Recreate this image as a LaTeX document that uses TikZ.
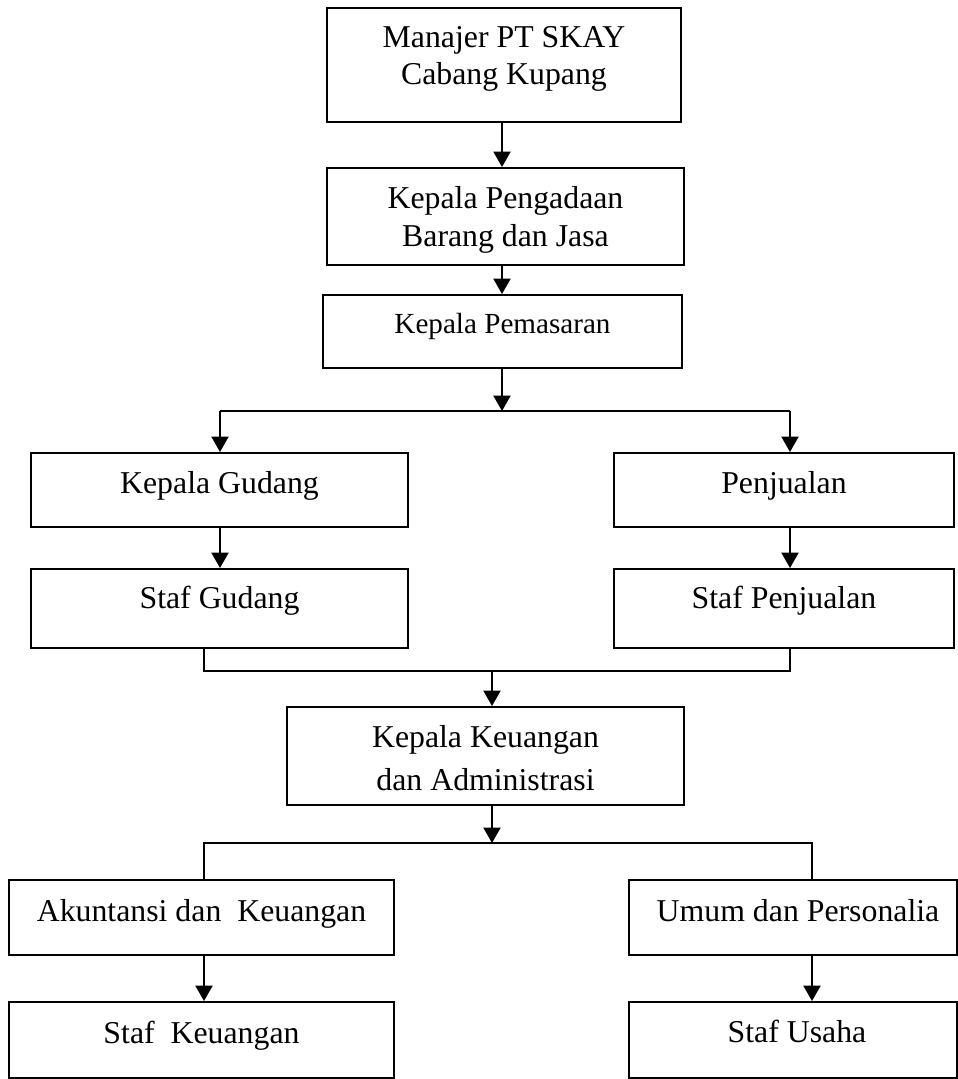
\documentclass[tikz,border=0pt]{standalone}
\usepackage{fontspec}
\setmainfont{Liberation Serif}
\usetikzlibrary{arrows.meta,fit}
\begin{document}
\begin{tikzpicture}[x=0.3774pt,y=-0.3774pt,
  box/.style={draw=black,line width=0.75pt,inner sep=0pt,fill=white},
  txt/.style={inner sep=0pt,anchor=base,font=\fontsize{12}{14}\selectfont},
  txts/.style={inner sep=0pt,anchor=base,font=\fontsize{11}{13}\selectfont},
  link/.style={draw=black,line width=0.8pt},
  arr/.style={link,-{Triangle[length=5.8pt,width=6.4pt]}}]
\useasboundingbox (0,0) rectangle (958,1079);
% boxes
\node[box,fit={(327,8) (681,122)}] (b1) {};
\node[box,fit={(327,168) (684,265)}] (b2) {};
\node[box,fit={(323,295) (682,368)}] (b3) {};
\node[box,fit={(31,453) (408,527)}] (kg) {};
\node[box,fit={(614,453) (954,527)}] (pj) {};
\node[box,fit={(31,569) (408,648)}] (sg) {};
\node[box,fit={(614,569) (954,648)}] (sp) {};
\node[box,fit={(287,707) (684,805)}] (kk) {};
\node[box,fit={(9,880) (394,955)}] (ak) {};
\node[box,fit={(629,880) (957,955)}] (um) {};
\node[box,fit={(9,1002) (394,1078)}] (sk) {};
\node[box,fit={(629,1002) (957,1078)}] (su) {};
% texts
\node[txt] (t1a) at (504,47) {Manajer PT SKAY};
\node[txt] (t1b) at (504,84) {Cabang Kupang};
\node[txt] (t2a) at (505.5,208) {Kepala Pengadaan};
\node[txt] (t2b) at (505.5,246) {Barang dan Jasa};
\node[txts] (t3) at (502.5,333) {Kepala Pemasaran};
\node[txt] (tkg) at (219.5,493) {Kepala Gudang};
\node[txt] (tpj) at (784,493) {Penjualan};
\node[txt] (tsg) at (219.5,608) {Staf Gudang};
\node[txt] (tsp) at (784,608) {Staf Penjualan};
\node[txt] (tkka) at (485.5,747) {Kepala Keuangan};
\node[txt] (tkkb) at (485.5,790) {dan Administrasi};
\node[txt] (tak) at (201.5,921) {Akuntansi dan\ \ Keuangan};
\node[txt] (tum) at (798,921) {Umum dan Personalia};
\node[txt] (tsk) at (201.5,1043) {Staf\ \ Keuangan};
\node[txt] (tsu) at (797,1042) {Staf Usaha};
% junction coordinates
\coordinate (j1) at (502,411);
\coordinate (j1l) at (220,411);
\coordinate (j1r) at (790,411);
\coordinate (j2l) at (204,671);
\coordinate (j2m) at (492,671);
\coordinate (j2r) at (790,671);
\coordinate (j3) at (492,843);
\coordinate (j3l) at (204,843);
\coordinate (j3r) at (812,843);
% connectors
\draw[arr] (b1.south -| j1) -- (b2.north -| j1);
\draw[arr] (b2.south -| j1) -- (b3.north -| j1);
\draw[arr] (b3.south -| j1) -- (j1);
\draw[link] (j1l) -- (j1r);
\draw[arr] (j1l) -- (kg.north -| j1l);
\draw[arr] (j1r) -- (pj.north -| j1r);
\draw[arr] (kg.south -| j1l) -- (sg.north -| j1l);
\draw[arr] (pj.south -| j1r) -- (sp.north -| j1r);
\draw[link] (sg.south -| j2l) -- (j2l) -- (j2r) -- (sp.south -| j2r);
\draw[arr] (j2m) -- (kk.north -| j2m);
\draw[arr] (kk.south -| j3) -- (j3);
\draw[link] (ak.north -| j3l) -- (j3l) -- (j3r) -- (um.north -| j3r);
\draw[arr] (ak.south -| j3l) -- (sk.north -| j3l);
\draw[arr] (um.south -| j3r) -- (su.north -| j3r);
\end{tikzpicture}
\end{document}
